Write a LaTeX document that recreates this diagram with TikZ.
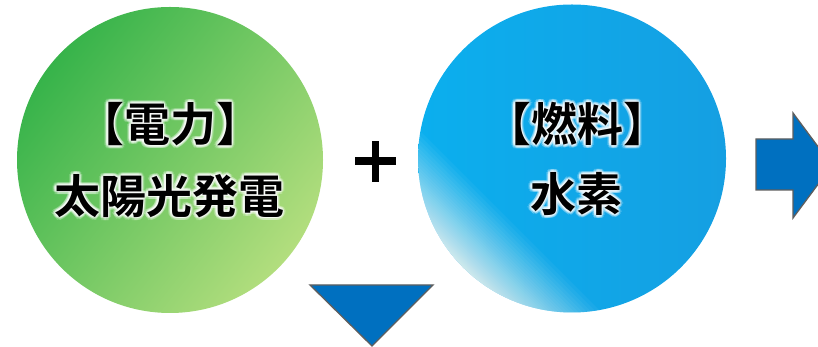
\documentclass[tikz,border=0pt]{standalone}
\usepackage{fontspec}
\newfontfamily\jpb{Noto Sans CJK JP Bold}
\usetikzlibrary{calc}
\definecolor{gdark}{HTML}{36B34A}
\definecolor{glight}{HTML}{B3DE7E}
\definecolor{bluec}{HTML}{0BAFEE}
\definecolor{bluedeep}{HTML}{159FE2}
\definecolor{arrowc}{HTML}{0070C0}
\definecolor{edgec}{HTML}{5E5E5E}
\tikzset{
  txt/.style={font=\jpb\fontsize{46}{46}\selectfont, inner sep=0pt, text=black},
  arrowshape/.style={fill=arrowc, draw=edgec, line width=1.3pt, line join=miter},
}
\newcommand\glowtxt[3]{%
  \foreach \a in {0,30,...,330}{\node[txt,text=white,opacity=0.22] at ($(#2)+(\a:3.2pt)$) {#3};}
  \foreach \a in {0,45,...,315}{\node[txt,text=white,opacity=0.35] at ($(#2)+(\a:1.6pt)$) {#3};}
  \node[txt] (#1) at (#2) {#3};}
\begin{document}
\begin{tikzpicture}[x=1pt,y=1pt]
\useasboundingbox (0,0) rectangle (818,347);
\clip (0,0) rectangle (818,347);
% circles
\node[circle, minimum size=306pt, inner sep=0pt, top color=gdark, bottom color=glight, shading angle=52] (green) at (170,187) {};
\node[circle, minimum size=308pt, inner sep=0pt, left color=bluec, right color=bluedeep] (blue) at (572,188.5) {};
\begin{scope}
  \clip (572,188.5) circle (154);
  \begin{scope}[shift={(572,188.5)}, rotate=-45]
    \foreach \k in {0,...,89}{%
      \pgfmathsetmacro\va{-88-78*(1-0.955^\k)}
      \fill[white, opacity=0.045] (-180,\va) -- (180,\va) -- (180,-200) -- (-180,-200) -- cycle;}
    \fill[white] (-180,-164) -- (180,-164) -- (180,-200) -- (-180,-200) -- cycle;
  \end{scope}
\end{scope}
% texts
\glowtxt{g1}{170,223}{【電力】}
\glowtxt{g2}{169,151}{太陽光発電}
\glowtxt{b1}{577,223}{【燃料】}
\glowtxt{b2}{576,153}{水素}
% plus sign
\fill[white,opacity=0.5] (370.5,163.5) rectangle (380.5,207.5);
\fill[white,opacity=0.5] (353.5,180.5) rectangle (397.5,191.5);
\fill[black] (372,165) rectangle (379,206);
\fill[black] (355,182) rectangle (396,190);
% down arrow
\draw[arrowshape] (310,62) -- (433,62) -- (372,1) -- cycle;
% right arrow
\draw[arrowshape] (756,208) -- (793,208) -- (793,234) -- (832,181.5) -- (793,129) -- (793,157) -- (756,157) -- cycle;
\end{tikzpicture}
\end{document}
